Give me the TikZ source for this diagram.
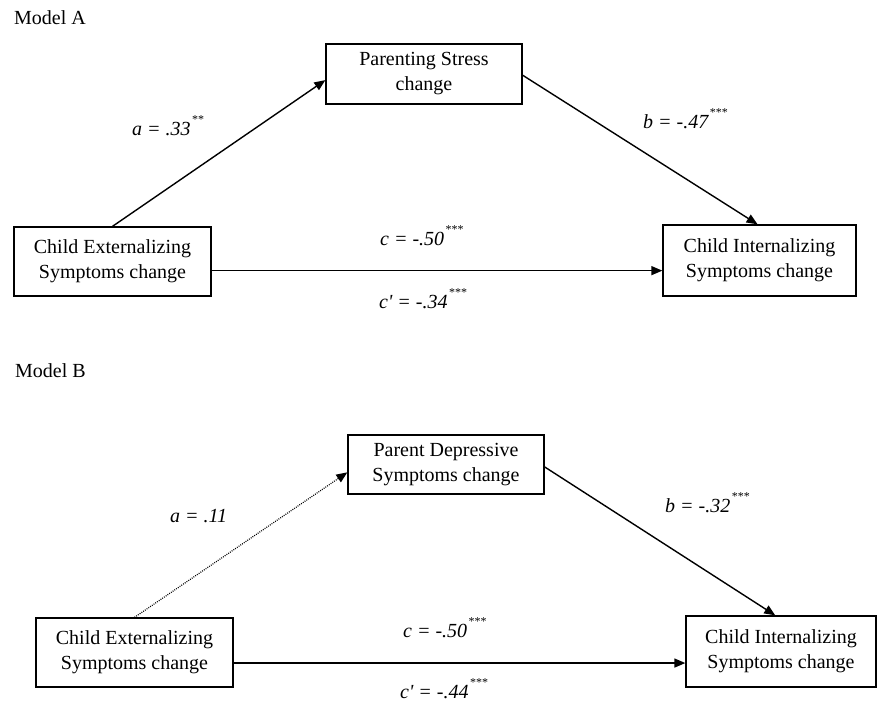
\documentclass[tikz,border=0pt]{standalone}
\usepackage{fontspec}
\setmainfont{Liberation Serif}
\usetikzlibrary{arrows.meta,calc}
\newcommand\mystars[1]{\raisebox{11.5pt}{\upshape\fontsize{12}{12}\selectfont\kern1.5pt #1}}
\begin{document}
\begin{tikzpicture}[x=1pt,y=-1pt,
  box/.style={draw, line width=1.3pt, align=center, inner sep=0pt,
    font=\fontsize{20}{25}\selectfont},
  lbl/.style={inner sep=0pt, font=\fontsize{20}{24}\selectfont\itshape, anchor=base west},
  ttl/.style={inner sep=0pt, font=\fontsize{20}{24}\selectfont, anchor=base west},
  conn/.style={line width=1.4pt, -{Triangle[length=11pt,width=9pt]}},
  dotconn/.style={line width=1.2pt, dash pattern=on 0.9pt off 1.2pt, -{Triangle[length=11pt,width=9pt]}}
]
\useasboundingbox (0,0) rectangle (878,701);

% ---------------- Model A ----------------
\node[ttl] (tA) at (14,25) {Model A};
\node[box, minimum width=196pt, minimum height=60pt] (PS) at (424,74) {Parenting Stress\\change};
\node[box, minimum width=197pt, minimum height=69pt] (extA) at (112.5,261.5) {Child Externalizing\\Symptoms change};
\node[box, minimum width=193pt, minimum height=71pt] (intA) at (759.5,260.5) {Child Internalizing\\Symptoms change};

\draw[conn] (extA.north) -- ($(PS.north west)!0.6!(PS.south west)$);
\draw[conn] ($(PS.north east)!0.52!(PS.south east)$) -- ($(intA.north west)!0.49!(intA.north east)$);
\coordinate (cA) at ($(extA.north east)!0.63!(extA.south east)$);
\draw[conn] (cA) -- (cA -| intA.west);

\node[lbl] (laA) at (132,135) {a = .33\mystars{**}};
\node[lbl] (lbA) at (643,128) {b = -.47\mystars{***}};
\node[lbl] (lcA) at (380,245) {c = -.50\mystars{***}};
\node[lbl] (lcpA) at (379,308) {c\textquotesingle{} = -.34\mystars{***}};

% ---------------- Model B ----------------
\node[ttl] (tB) at (15,377) {Model B};
\node[box, minimum width=196pt, minimum height=59pt] (PD) at (446,464.5) {Parent Depressive\\Symptoms change};
\node[box, minimum width=197pt, minimum height=69pt] (extB) at (134.5,652.5) {Child Externalizing\\Symptoms change};
\node[box, minimum width=190pt, minimum height=71pt] (intB) at (781,651.5) {Child Internalizing\\Symptoms change};

\draw[dotconn] (extB.north) -- ($(PD.north west)!0.63!(PD.south west)$);
\draw[conn] ($(PD.north east)!0.54!(PD.south east)$) -- ($(intB.north west)!0.47!(intB.north east)$);
\coordinate (cB) at ($(extB.north east)!0.65!(extB.south east)$);
\draw[conn] (cB) -- (cB -| intB.west);

\node[lbl] (laB) at (170,522) {a = .11};
\node[lbl] (lbB) at (665,512) {b = -.32\mystars{***}};
\node[lbl] (lcB) at (403,637) {c = -.50\mystars{***}};
\node[lbl] (lcpB) at (400,698) {c\textquotesingle{} = -.44\mystars{***}};
\end{tikzpicture}
\end{document}
